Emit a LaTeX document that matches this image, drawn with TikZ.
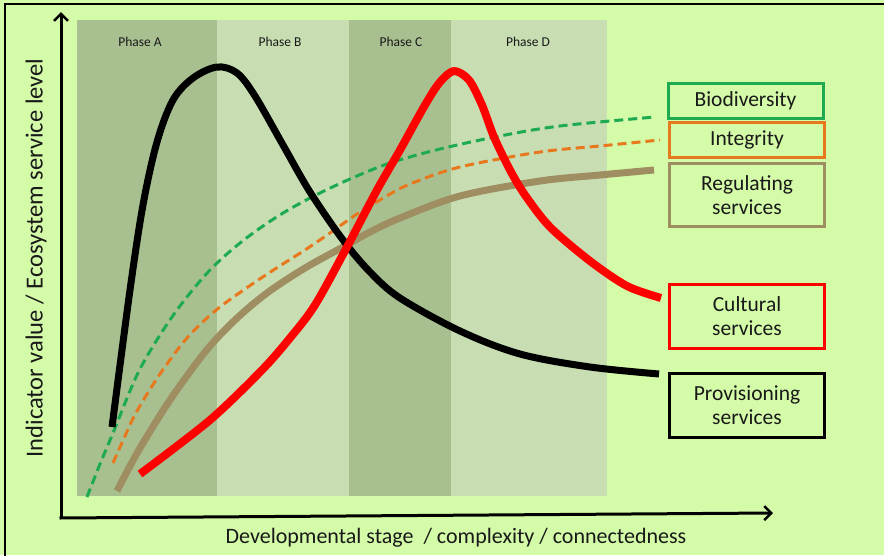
\documentclass[tikz,border=0pt]{standalone}
\usepackage{fontspec}
\setmainfont{Carlito}
\usetikzlibrary{arrows.meta}
\definecolor{bgc}{RGB}{212,251,168}
\definecolor{banddark}{RGB}{168,192,144}
\definecolor{bandlight}{RGB}{200,222,178}
\definecolor{gcol}{RGB}{30,170,80}
\definecolor{ocol}{RGB}{232,120,30}
\definecolor{bcol}{RGB}{158,142,98}
\definecolor{rcol}{RGB}{255,0,0}
\definecolor{txt}{RGB}{25,25,25}
\tikzset{
  lbox/.style={draw, line width=3pt, minimum width=155pt, inner sep=0pt, align=center, font=\fontsize{21.5}{23}\selectfont, text=txt},
  phase/.style={font=\fontsize{13.5}{15}\selectfont, text=txt},
  axis/.style={line width=3pt, -{Straight Barb[length=7pt,width=14pt,line width=2.5pt]}},
  curve/.style={line cap=butt, line join=round},
}
\begin{document}
\begin{tikzpicture}[x=1pt,y=-1pt]
\useasboundingbox (0,0) rectangle (884,555);
\fill[bgc] (0,0) rectangle (884,555);
\draw[line width=2pt] (5,560) -- (5,4) -- (890,4);
% bands
\fill[banddark] (77,20) rectangle (217,496);
\fill[bandlight] (217,20) rectangle (349,496);
\fill[banddark] (349,20) rectangle (451,496);
\fill[bandlight] (451,20) rectangle (607,496);
\node[phase] (pa) at (140,42) {Phase A};
\node[phase] (pb) at (280,42) {Phase B};
\node[phase] (pc) at (401,42) {Phase C};
\node[phase] (pd) at (528,42) {Phase D};
% axes
\coordinate (o) at (61,518);
\coordinate (ytop) at (61,12);
\coordinate (xend) at (773,513);
\draw[axis] (o) -- (ytop);
\draw[axis] ([xshift=-1.5pt]o) -- (xend);
\node[rotate=90, font=\fontsize{24.5}{26}\selectfont, text=txt] (ylab) at (36,258) {Indicator value / Ecosystem service level};
\node[font=\fontsize{22}{24}\selectfont, text=txt] (xlab) at (456,538) {Developmental stage \ / complexity / connectedness};
% curves
\draw[curve, gcol, line width=3pt, dash pattern=on 9pt off 5pt] plot[smooth, tension=0.55] coordinates {(87,497) (100,464) (113,433) (137,375) (160,335) (183,302) (210,270) (240,243) (275,218) (310,198) (350,179) (390,163) (440,149) (500,136) (560,126) (655,117)};
\draw[curve, ocol, line width=3pt, dash pattern=on 9pt off 5pt] plot[smooth, tension=0.55] coordinates {(113,463) (125,436) (137,411) (160,374) (187,338) (215,311) (245,289) (275,269) (305,250) (330,233) (357,214) (385,197) (410,184) (460,167) (540,152) (600,146) (660,140)};
\draw[curve, bcol, line width=7pt] plot[smooth, tension=0.55] coordinates {(117,491) (130,466) (143,443) (170,400) (205,352) (235,320) (267,293) (305,268) (343,247) (370,232) (400,218) (460,196) (540,181) (600,175) (654,170)};
\draw[curve, black, line width=7pt] plot[smooth, tension=0.55] coordinates {(112,427) (130,290) (143,205) (157,142) (173,100) (193,78) (217,67) (237,73) (255,96) (283,145) (310,192) (343,240) (370,272) (400,298) (460,331) (520,354) (590,367) (659,374)};
\draw[curve, rcol, line width=8pt] plot[smooth, tension=0.5] coordinates {(140,474) (210,420) (262,370) (290,338) (315,305) (347,247) (377,190) (400,150) (425,105) (440,82) (454,71) (469,80) (482,105) (494,137) (510,170) (525,195) (550,227) (590,261) (627,286) (661,298)};
% legend boxes
\node[lbox, gcol, minimum height=35pt] (bio) at (745.5,101) {\textcolor{txt}{Biodiversity}};
\node[lbox, ocol, minimum height=35pt] (integ) at (747,140) {\textcolor{txt}{Integrity}};
\node[lbox, bcol, minimum height=63pt] (reg) at (747,195) {\textcolor{txt}{Regulating}\\[1pt]\textcolor{txt}{services}};
\node[lbox, rcol, minimum height=64pt] (cult) at (747,316.5) {\textcolor{txt}{Cultural}\\[1pt]\textcolor{txt}{services}};
\node[lbox, black, minimum height=64pt] (prov) at (747,405.5) {\textcolor{txt}{Provisioning}\\[1pt]\textcolor{txt}{services}};
\end{tikzpicture}
\end{document}
